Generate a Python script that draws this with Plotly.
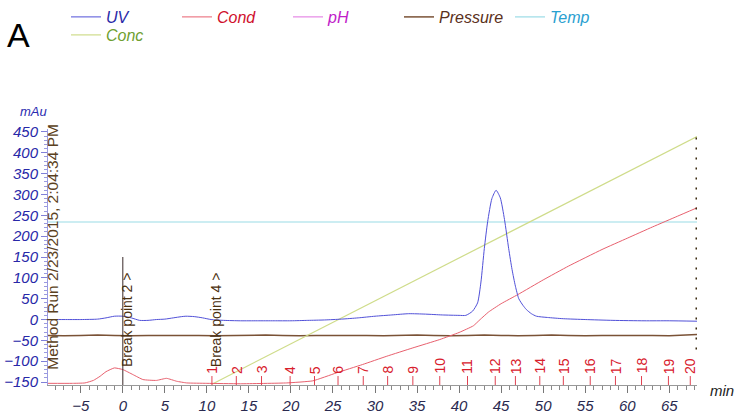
import plotly.graph_objects as go

# ---------------- data ----------------
uv_time = [-8.9, -7, -5, -3, -2, -1, 0, 1, 2, 3, 4, 5, 6, 7, 7.5, 8.5, 9.5, 10.5, 12, 14, 16, 18, 20, 22,
           24, 26, 28, 30, 32, 34, 36, 38, 40, 40.8, 41.6, 42.2, 42.6, 43.0, 43.4, 43.9, 44.4, 44.9,
           45.4, 45.9, 46.3, 46.7, 47.1, 47.6, 48.0, 48.6, 49.2, 50.5, 52.4, 55, 58.3, 62, 65, 68.3]
uv_mau = [0, 0, 0, 1, 4, 8, 8, 4, -2, -2, 0, 1, 4, 7, 8, 7, 4, 0, -2, -3, -3, -3, -3, -2,
          -1, 1, 4, 8, 11, 14, 13, 11, 10, 10, 20, 40, 90, 170, 235, 290, 310, 292,
          240, 170, 120, 80, 50, 34, 24, 14, 8, 5, 2, 0, -2, -3, -3, -4]

cond_time = [-8.9, -6, -4.5, -3.5, -2.7, -2, -1, 0, 1.2, 2.4, 4, 5.2, 6.4, 7.6, 10, 14, 19.5, 22.6,
             25.4, 28.5, 31.4, 34.5, 37.7, 40, 41.7, 42.5, 43.5, 45, 47, 50, 53, 57, 60, 63, 66, 68.3]
cond_val = [-153, -153, -152, -146, -136, -125, -116, -120, -132, -144, -146, -141, -148, -152, -153,
            -154, -152, -147, -128, -108, -88, -68, -48, -31, -15, 0, 18, 38, 60, 95, 128, 168, 195,
            222, 248, 268]

conc_time = [10.6, 68.3]
conc_val = [-155, 439]

temp_time = [-8.9, 68.3]
temp_val = [234, 234]

pressure_time = [-8.9, -7, -5, -3, -1, 1, 3, 5, 7, 9, 11, 13, 15, 17, 19, 21, 23, 25, 27, 29, 31, 33,
                 35, 37, 39, 41, 43, 45, 47, 49, 51, 53, 55, 57, 59, 61, 63, 65, 67, 68.3]
pressure_val = [-38, -39, -38, -37, -38, -39, -38, -38, -37, -38, -39, -38, -38, -37, -38, -39, -38,
                -38, -37, -38, -39, -38, -37, -38, -39, -38, -37, -38, -39, -38, -37, -38, -39,
                -38, -38, -37, -38, -39, -38, -36]

ph_time = [0, 1]
ph_val = [None, None]

frac_labels = [str(i) for i in range(1, 21)]
frac_pos = [10.6, 13.5, 16.5, 19.9, 22.8, 25.6, 28.6, 31.5, 34.5, 37.7, 41.0, 44.3, 46.7, 49.6,
            52.4, 55.6, 58.6, 61.7, 64.9, 67.5]

breakpoint_labels = ["Break point 2 >", "Break point 4 >"]
breakpoint_pos = [0.5, 11.1]

method_label = "Method Run 2/23/2015, 2:04:34 PM"

FONT = "Liberation Sans, Arial, sans-serif"
FIG_W, FIG_H = 735, 418

fig = go.Figure()


def nm(text, color):
    return "<span style='color:%s'>%s</span>" % (color, text)


fig.add_trace(go.Scatter(x=pressure_time, y=pressure_val, mode="lines", name=nm("Pressure", "#5a3020"),
                         line=dict(color="#7a5236", width=1.5), legend="legend", legendrank=4))
fig.add_trace(go.Scatter(x=temp_time, y=temp_val, mode="lines", name=nm("Temp", "#2aa0d0"),
                         line=dict(color="#9adbe6", width=1.2), legend="legend", legendrank=5))
fig.add_trace(go.Scatter(x=conc_time, y=conc_val, mode="lines", name=nm("Conc", "#6fa030"),
                         line=dict(color="#cfdc8a", width=1.2), legend="legend2", legendrank=6))
fig.add_trace(go.Scatter(x=cond_time, y=cond_val, mode="lines", name=nm("Cond", "#d0102c"),
                         line=dict(color="#e8606e", width=1, shape="spline", smoothing=0.4),
                         legend="legend", legendrank=2))
fig.add_trace(go.Scatter(x=ph_time, y=ph_val, mode="lines", name=nm("pH", "#c020c8"),
                         line=dict(color="#e070e0", width=1), legend="legend", legendrank=3))
fig.add_trace(go.Scatter(x=uv_time, y=uv_mau, mode="lines", name=nm("UV", "#2a2aa8"),
                         line=dict(color="#5050d8", width=1, shape="spline", smoothing=0.6),
                         legend="legend", legendrank=1))

shapes = []
annotations = []

# fraction marks
for p, lab in zip(frac_pos, frac_labels):
    shapes.append(dict(type="line", xref="x", yref="paper", x0=p, x1=p, y0=0, y1=0.035,
                       line=dict(color="#e04050", width=1)))
    annotations.append(dict(x=p, y=0.036, xref="x", yref="paper", text=lab, showarrow=False,
                            textangle=-90, xanchor="center", yanchor="bottom",
                            font=dict(family=FONT, size=14, color="#d8202c")))

# injection / break point marker line
shapes.append(dict(type="line", xref="x", yref="y", x0=0, x1=0, y0=-157, y1=150,
                   line=dict(color="#3a2a2a", width=1)))
# clipped run label at the right edge
shapes.append(dict(type="line", xref="x", yref="y", x0=68.3, x1=68.3, y0=-72, y1=450,
                   line=dict(color="#3a2a10", width=3, dash="2px,8px")))

for p, lab in zip(breakpoint_pos, breakpoint_labels):
    annotations.append(dict(x=p, y=-120, xref="x", yref="y", text=lab, showarrow=False,
                            textangle=-90, xanchor="center", yanchor="bottom",
                            font=dict(family=FONT, size=14, color="#4a3010")))

annotations.append(dict(x=-8.3, y=-125, xref="x", yref="y", text=method_label, showarrow=False,
                        textangle=-90, xanchor="center", yanchor="bottom",
                        font=dict(family=FONT, size=15.5, color="#5a4020")))

annotations.append(dict(x=-0.046, y=1.369, xref="paper", yref="paper", text="A", showarrow=False,
                        xanchor="center", yanchor="middle",
                        font=dict(family=FONT, size=34, color="#000000")))
annotations.append(dict(x=-0.023, y=1.068, xref="paper", yref="paper", text="mAu", showarrow=False,
                        xanchor="center", yanchor="middle",
                        font=dict(family=FONT, size=13, color="#2a2ab0", style="italic")))
annotations.append(dict(x=1.0385, y=-0.021, xref="paper", yref="paper", text="min", showarrow=False,
                        xanchor="center", yanchor="middle",
                        font=dict(family=FONT, size=15, color="#222222", style="italic")))

fig.update_layout(
    width=FIG_W, height=FIG_H, autosize=False,
    margin=dict(l=48, r=38, t=129, b=33, pad=0, autoexpand=False),
    paper_bgcolor="white", plot_bgcolor="white",
    font=dict(family=FONT),
    shapes=shapes, annotations=annotations,
    legend=dict(orientation="h", xref="container", yref="container",
                x=66 / FIG_W, y=1 - 17 / FIG_H,
                xanchor="left", yanchor="middle",
                entrywidth=66, entrywidthmode="pixels", traceorder="normal",
                font=dict(family=FONT, size=16, style="italic"), bgcolor="rgba(0,0,0,0)"),
    legend2=dict(orientation="h", xref="container", yref="container",
                 x=66 / FIG_W, y=1 - 35 / FIG_H,
                 xanchor="left", yanchor="middle",
                 font=dict(family=FONT, size=16, style="italic"), bgcolor="rgba(0,0,0,0)"),
    xaxis=dict(range=[-8.9, 68.3], tick0=0, dtick=5, ticks="outside", ticklen=7, tickcolor="#777777",
               automargin=False,
               showline=True, linecolor="#999999", linewidth=1, showgrid=False, zeroline=False,
               minor=dict(dtick=1, ticks="outside", ticklen=4, tickcolor="#888888"),
               tickfont=dict(family=FONT, size=15, color="#2a2a50", style="italic")),
    yaxis=dict(range=[-157, 457], tick0=0, dtick=50, ticks="outside", ticklen=6, tickcolor="#8080d8",
               automargin=False,
               showline=True, linecolor="#9a9ae0", linewidth=1, showgrid=False, zeroline=False,
               minor=dict(dtick=10, ticks="outside", ticklen=3, tickcolor="#9a9ae0"),
               tickfont=dict(family=FONT, size=15, color="#2828a8", style="italic")),
)

# remove the browser's default page margin so the 735x418 figure fills the window exactly
fig.write_html("out.html", config={"displayModeBar": False},
               post_script="document.body.style.margin='0';document.body.style.overflow='hidden';")
